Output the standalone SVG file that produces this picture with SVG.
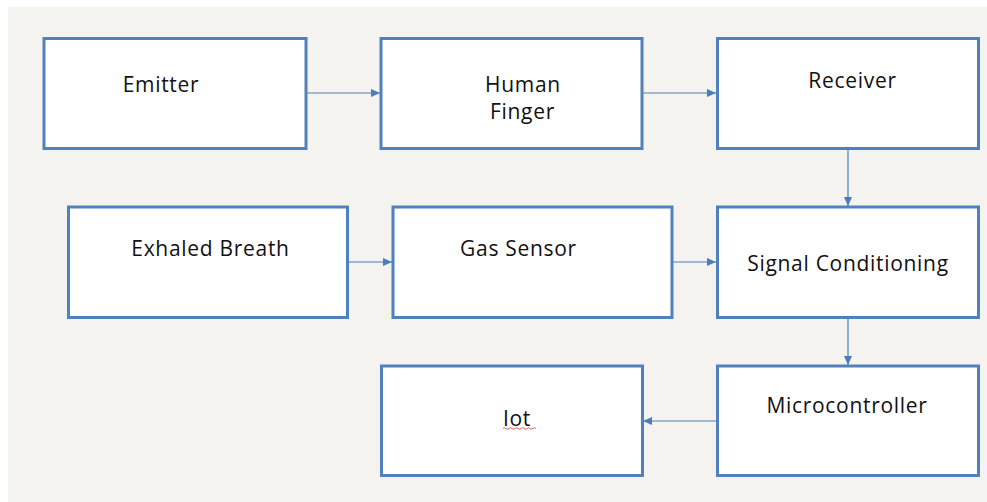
<svg xmlns="http://www.w3.org/2000/svg" width="987" height="502" viewBox="0 0 987 502">
<style>
.box{fill:#ffffff;stroke:#4f81bd;stroke-width:3}
.lbl{font-family:"Open Sans","Liberation Sans",sans-serif;font-size:21px;letter-spacing:0.7px;fill:#111111;text-anchor:middle}
.conn{stroke:#4a7ebb;stroke-width:1.2;fill:none;marker-end:url(#ah)}
</style>
<defs>
<marker id="ah" markerWidth="9" markerHeight="8" refX="9" refY="4" orient="auto" markerUnits="userSpaceOnUse">
<path d="M0,0 L9,4 L0,8 Z" fill="#4a7ebb"/>
</marker>
</defs>
<rect x="0" y="0" width="987" height="502" fill="#ffffff"/>
<rect x="8" y="7" width="979" height="495" fill="#f4f3ef"/>
<g id="connectors">
<line class="conn" x1="306" y1="93" x2="380" y2="93"/>
<line class="conn" x1="642" y1="93" x2="716" y2="93"/>
<line class="conn" x1="848" y1="148" x2="848" y2="206"/>
<line class="conn" x1="348" y1="262" x2="392" y2="262"/>
<line class="conn" x1="672" y1="262" x2="716" y2="262"/>
<line class="conn" x1="848" y1="318" x2="848" y2="365"/>
<line class="conn" x1="717" y1="421" x2="643" y2="421"/>
</g>
<g id="emitter"><rect class="box" x="44" y="38.5" width="262" height="110"/><text class="lbl" x="161" y="92">Emitter</text></g>
<g id="finger"><rect class="box" x="381" y="38.5" width="261" height="110"/><text class="lbl" x="523" y="92">Human</text><text class="lbl" x="522.5" y="119">Finger</text></g>
<g id="receiver"><rect class="box" x="717.5" y="38.5" width="261" height="110"/><text class="lbl" x="852.5" y="88">Receiver</text></g>
<g id="breath"><rect class="box" x="68.5" y="207" width="279" height="110.5"/><text class="lbl" x="210.5" y="256">Exhaled Breath</text></g>
<g id="gas"><rect class="box" x="393" y="207" width="279" height="110.5"/><text class="lbl" x="518.5" y="256">Gas Sensor</text></g>
<g id="signal"><rect class="box" x="717.5" y="207" width="261" height="110.5"/><text class="lbl" x="848" y="271">Signal Conditioning</text></g>
<g id="iot"><rect class="box" x="381.5" y="366" width="261" height="109.5"/><text class="lbl" x="517" y="426">Iot</text><path d="M503,428.5 q1.5,-1.5 3,0 t3,0 t3,0 t3,0 t3,0 t3,0 t3,0 t3,0 t3,0 t3,0 t3,0" fill="none" stroke="#e05050" stroke-width="0.9"/></g>
<g id="micro"><rect class="box" x="717.5" y="366" width="261" height="109.5"/><text class="lbl" x="847" y="413">Microcontroller</text></g>
</svg>
